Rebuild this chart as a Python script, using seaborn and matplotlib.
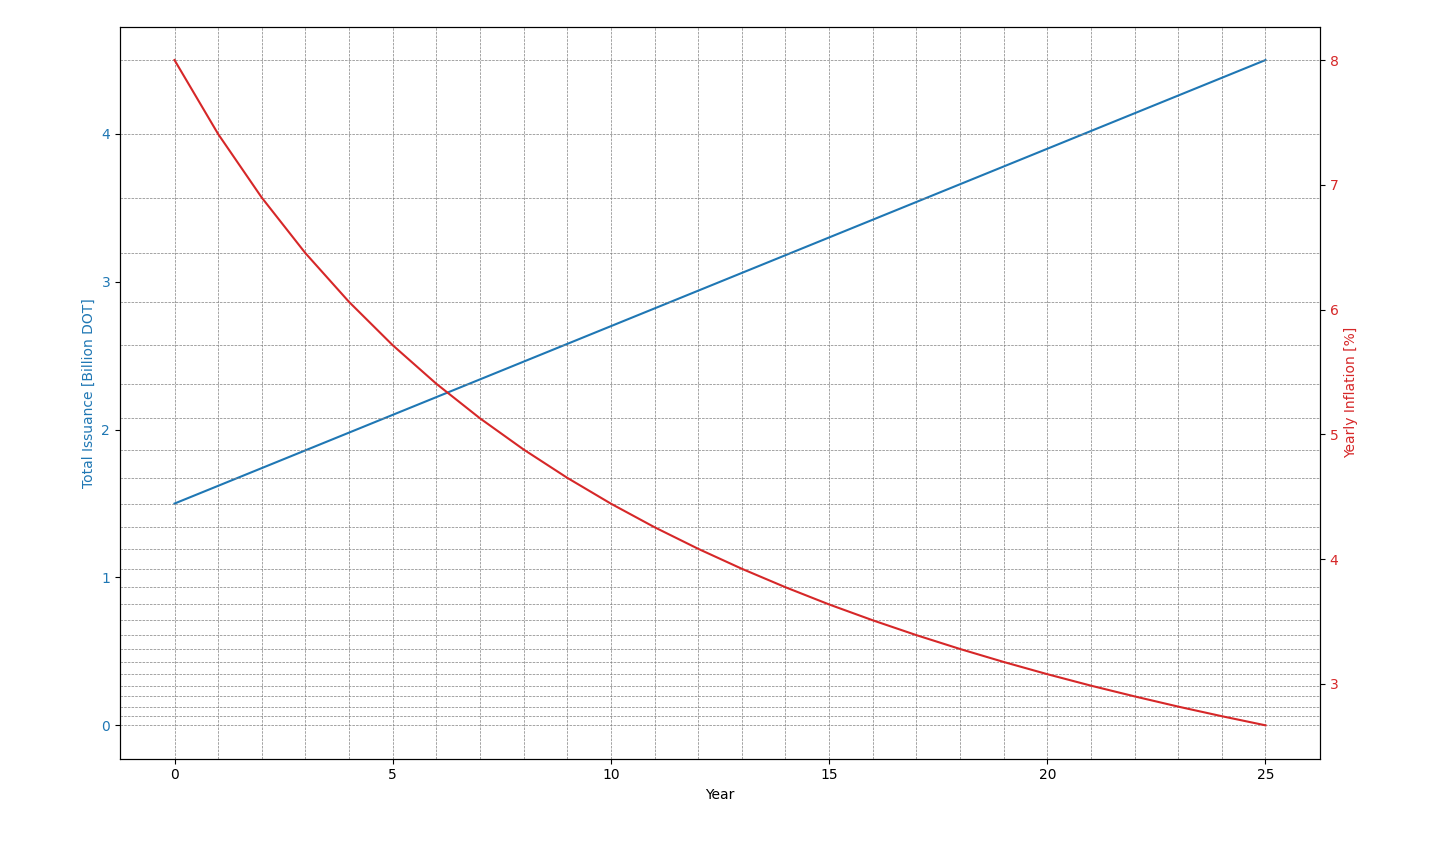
import numpy as np
import pandas as pd
import seaborn as sns
import matplotlib
matplotlib.use('Agg')
import matplotlib.pyplot as plt

# Values
years = list(range(26))
issuance = [1.50, 1.62, 1.74, 1.86, 1.98, 2.10, 2.22, 2.34, 2.46, 2.58,
            2.70, 2.82, 2.94, 3.06, 3.18, 3.30, 3.42, 3.54, 3.66, 3.78,
            3.90, 4.02, 4.14, 4.26, 4.38, 4.50]
inflation = [8.000, 7.407, 6.897, 6.452, 6.061, 5.714, 5.405, 5.128, 4.878, 4.651,
             4.444, 4.255, 4.082, 3.922, 3.774, 3.636, 3.509, 3.390, 3.279, 3.175,
             3.077, 2.985, 2.899, 2.817, 2.740, 2.667]

df = pd.DataFrame({'Year': years, 'Issuance': issuance, 'Inflation': inflation})

blue = '#1f77b4'
red = '#d62728'

fig, ax = plt.subplots(figsize=(14.4, 8.64), dpi=100)
fig.subplots_adjust(left=0.0833, right=0.9167, top=0.969, bottom=0.122)

# Total issuance on the left axis
sns.lineplot(data=df, x='Year', y='Issuance', color=blue, ax=ax)
ax.set_xlabel('Year')
ax.set_ylabel('Total Issuance [Billion DOT]', color=blue)
ax.tick_params(axis='y', labelcolor=blue)
pad = 0.05 * max(issuance)
ax.set_ylim(-pad, max(issuance) + pad)

# vertical grid at every year
for yr in years:
    ax.axvline(yr, color='gray', linestyle='--', linewidth=0.5, zorder=0)

# Yearly inflation on the right axis
ax2 = ax.twinx()
sns.lineplot(data=df, x='Year', y='Inflation', color=red, ax=ax2)
ax2.set_ylabel('Yearly Inflation [%]', color=red)
ax2.tick_params(axis='y', labelcolor=red)

# horizontal grid at every inflation value
for val in inflation:
    ax2.axhline(val, color='gray', linestyle='--', linewidth=0.5, zorder=0)

fig.savefig('out.png', dpi=100)
